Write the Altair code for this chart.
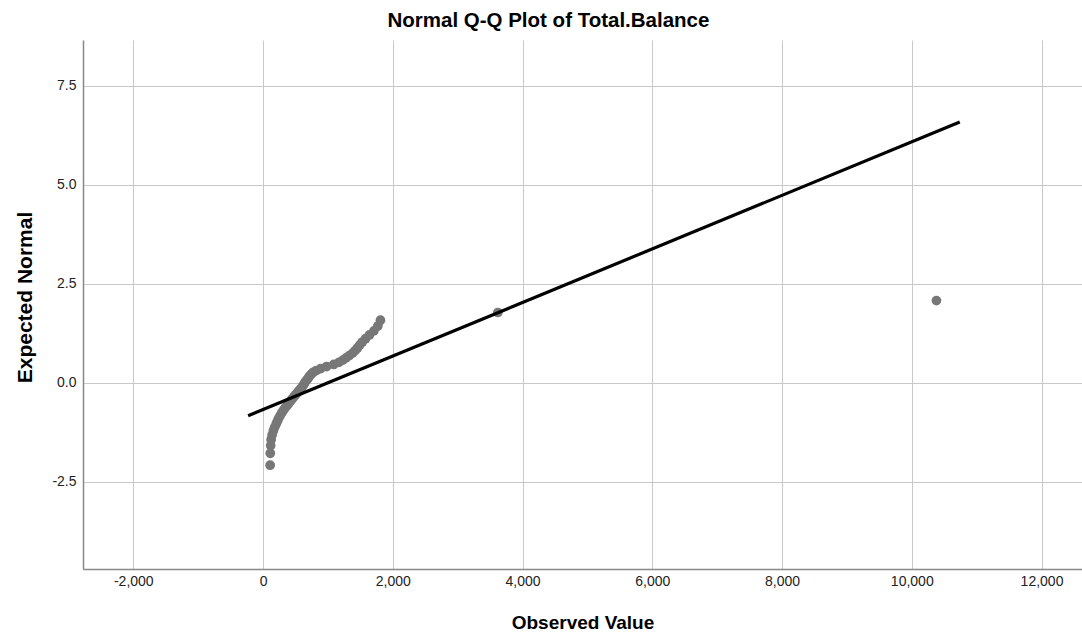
import altair as alt
import pandas as pd

observed = [110, 112, 118, 125, 140, 160, 180, 205, 225, 245,
            268, 290, 315, 340, 370, 395, 420, 445, 470, 495,
            520, 545, 570, 595, 615, 635, 650, 672, 695, 715,
            740, 770, 820, 890, 980, 1090, 1170, 1230, 1280, 1330,
            1380, 1420, 1455, 1490, 1530, 1580, 1640, 1710, 1770, 1810,
            3620, 10380]
expected = [-2.078, -1.778, -1.584, -1.436, -1.314, -1.210, -1.116, -1.032, -0.955, -0.882,
            -0.815, -0.751, -0.689, -0.631, -0.574, -0.519, -0.466, -0.414, -0.363, -0.313,
            -0.264, -0.215, -0.167, -0.119, -0.071, -0.024, 0.024, 0.071, 0.119, 0.167,
            0.215, 0.264, 0.313, 0.363, 0.414, 0.466, 0.519, 0.574, 0.631, 0.689,
            0.751, 0.815, 0.882, 0.955, 1.032, 1.116, 1.210, 1.314, 1.436, 1.584,
            1.778, 2.078]

# Reference line end points
line_x = [-230, 10740]
line_y = [-0.83, 6.59]

x_ticks = [-2000, 0, 2000, 4000, 6000, 8000, 10000, 12000]
y_ticks = [-2.5, 0.0, 2.5, 5.0, 7.5]

pts = pd.DataFrame({"obs": observed, "exp": expected})
ln = pd.DataFrame({"obs": line_x, "exp": line_y})

FONT = "Liberation Sans"

x_enc = alt.X("obs:Q",
              scale=alt.Scale(domain=[-2775, 12624], nice=False, zero=False),
              axis=alt.Axis(values=x_ticks, title="Observed Value",
                            labelExpr="datum.value < 0 ? '-' + format(-datum.value, ',.0f') : format(datum.value, ',.0f')",
                            tickSize=0, labelPadding=5, titlePadding=25,
                            titleFontSize=19, grid=True))
y_enc = alt.Y("exp:Q",
              scale=alt.Scale(domain=[-4.70, 8.66], nice=False, zero=False),
              axis=alt.Axis(values=y_ticks, title="Expected Normal",
                            labelExpr="datum.value < 0 ? '-' + format(-datum.value, '.1f') : format(datum.value, '.1f')",
                            tickSize=0, labelPadding=7, titlePadding=16,
                            titleFontSize=21, titleY=257, grid=True))

points = alt.Chart(pts).mark_circle(size=95, color="#777777", opacity=1).encode(
    x=x_enc, y=y_enc)

line = alt.Chart(ln).mark_line(color="#000000", strokeWidth=3.2).encode(
    x="obs:Q", y="exp:Q")

chart = alt.layer(points, line).properties(
    width=999, height=529,
    title=alt.TitleParams("Normal Q-Q Plot of Total.Balance", font=FONT,
                          fontSize=20.5, fontWeight="bold", color="#000000",
                          anchor="middle", frame="bounds", offset=9),
    autosize=alt.AutoSizeParams(type="none"),
    padding={"left": 83, "top": 40, "right": 0, "bottom": 65},
).configure_view(stroke=None).configure_axis(
    labelFont=FONT, labelFontSize=14, labelColor="#222222",
    titleFont=FONT, titleFontWeight="bold", titleColor="#000000",
    gridColor="#c8c8c8", gridWidth=1, gridOpacity=1,
    domainColor="#888888", domainWidth=1.5,
)

chart.save("out.html", embed_options={"renderer": "svg", "actions": False})
